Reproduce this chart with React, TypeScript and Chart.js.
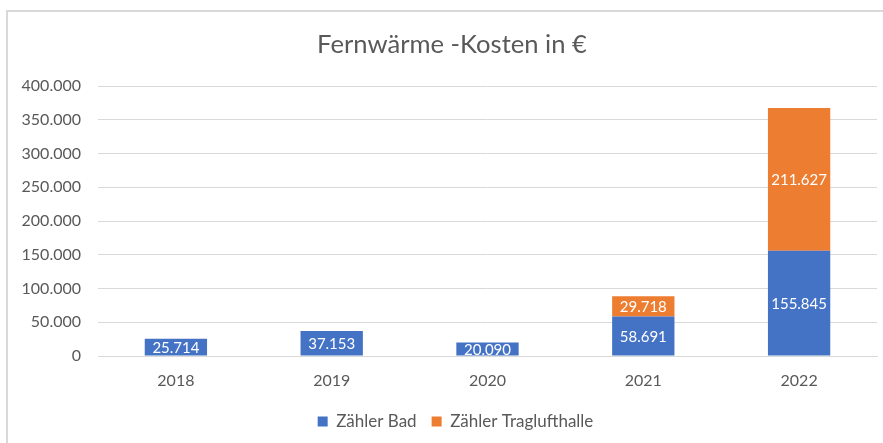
import React, { useEffect, useRef } from "react";
import { Chart, registerables } from "chart.js";

Chart.register(...registerables);

const categories = ["2018", "2019", "2020", "2021", "2022"];
const zaehlerBad = [25714, 37153, 20090, 58691, 155845];
const zaehlerTraglufthalle = [null, null, null, 29718, 211627];
const seriesNames = ["Zähler Bad", "Zähler Traglufthalle"];
const titleText = "Fernwärme -Kosten in €";

const FONT = "Lato, 'Open Sans', sans-serif";
const TEXT = "#595959";

function fmt(v: number): string {
  const s = Math.round(v).toString();
  return s.replace(/\B(?=(\d{3})+(?!\d))/g, ".");
}

const dataLabels = {
  id: "dataLabels",
  afterDatasetsDraw(chart: any) {
    const ctx = chart.ctx;
    ctx.save();
    ctx.fillStyle = "#ffffff";
    ctx.font = `15px ${FONT}`;
    ctx.textAlign = "center";
    ctx.textBaseline = "middle";
    chart.data.datasets.forEach((ds: any, i: number) => {
      const meta = chart.getDatasetMeta(i);
      meta.data.forEach((el: any, j: number) => {
        const v = ds.data[j];
        if (v == null) return;
        const cy = (el.y + el.base) / 2;
        ctx.fillText(fmt(v), el.x, cy + 1);
      });
    });
    ctx.restore();
  },
};

const offsetTitle = {
  id: "offsetTitle",
  afterDraw(chart: any) {
    const ctx = chart.ctx;
    ctx.save();
    ctx.fillStyle = TEXT;
    ctx.font = `25.6px ${FONT}`;
    ctx.textAlign = "center";
    ctx.textBaseline = "middle";
    ctx.fillText(titleText, 444, 33);
    ctx.restore();
  },
};

const shiftLegend = {
  id: "shiftLegend",
  afterLayout(chart: any) {
    if (chart.legend) chart.legend.left = chart.legend.left + 26;
  },
};

export default function App() {
  const ref = useRef<HTMLCanvasElement>(null);
  useEffect(() => {
    if (!ref.current) return;
    const chart = new Chart(ref.current, {
      type: "bar",
      data: {
        labels: categories,
        datasets: [
          {
            label: seriesNames[0],
            data: zaehlerBad,
            backgroundColor: "#4472C4",
            barPercentage: 0.4,
            categoryPercentage: 1,
          },
          {
            label: seriesNames[1],
            data: zaehlerTraglufthalle as any,
            backgroundColor: "#ED7D31",
            barPercentage: 0.4,
            categoryPercentage: 1,
          },
        ],
      },
      options: {
        animation: false,
        responsive: false,
        maintainAspectRatio: false,
        layout: { padding: { top: 74, right: 6, bottom: 3, left: 0 } },
        plugins: {
          title: { display: false },
          legend: {
            position: "bottom",
            labels: {
              color: TEXT,
              font: { family: FONT, size: 17 },
              boxWidth: 10,
              boxHeight: 10,
              padding: 15,
            },
          },
          tooltip: { enabled: false },
        },
        scales: {
          x: {
            stacked: true,
            afterFit(scale: any) {
              scale.height = 42;
            },
            grid: { display: false, drawTicks: false },
            border: { display: true, color: "#d9d9d9", width: 1 },
            ticks: { color: TEXT, font: { family: FONT, size: 16 }, padding: 15 },
          },
          y: {
            stacked: true,
            min: 0,
            max: 400000,
            afterFit(scale: any) {
              scale.width = 90;
            },
            grid: { color: "#d9d9d9", drawTicks: false },
            border: { display: false },
            ticks: {
              stepSize: 50000,
              color: TEXT,
              font: { family: FONT, size: 16 },
              padding: 17,
              callback: (v: any) => fmt(Number(v)),
            },
          },
        },
      },
      plugins: [dataLabels, offsetTitle, shiftLegend],
    });
    return () => chart.destroy();
  }, []);
  return (
    <div
      style={{
        position: "fixed",
        left: 6,
        top: 10,
        width: 877,
        height: 433,
        borderTop: "2px solid #d9d9d9",
        borderLeft: "2px solid #d9d9d9",
        background: "#fff",
        boxSizing: "border-box",
      }}
    >
      <canvas ref={ref} width={875} height={431} style={{ display: "block" }} />
    </div>
  );
}
